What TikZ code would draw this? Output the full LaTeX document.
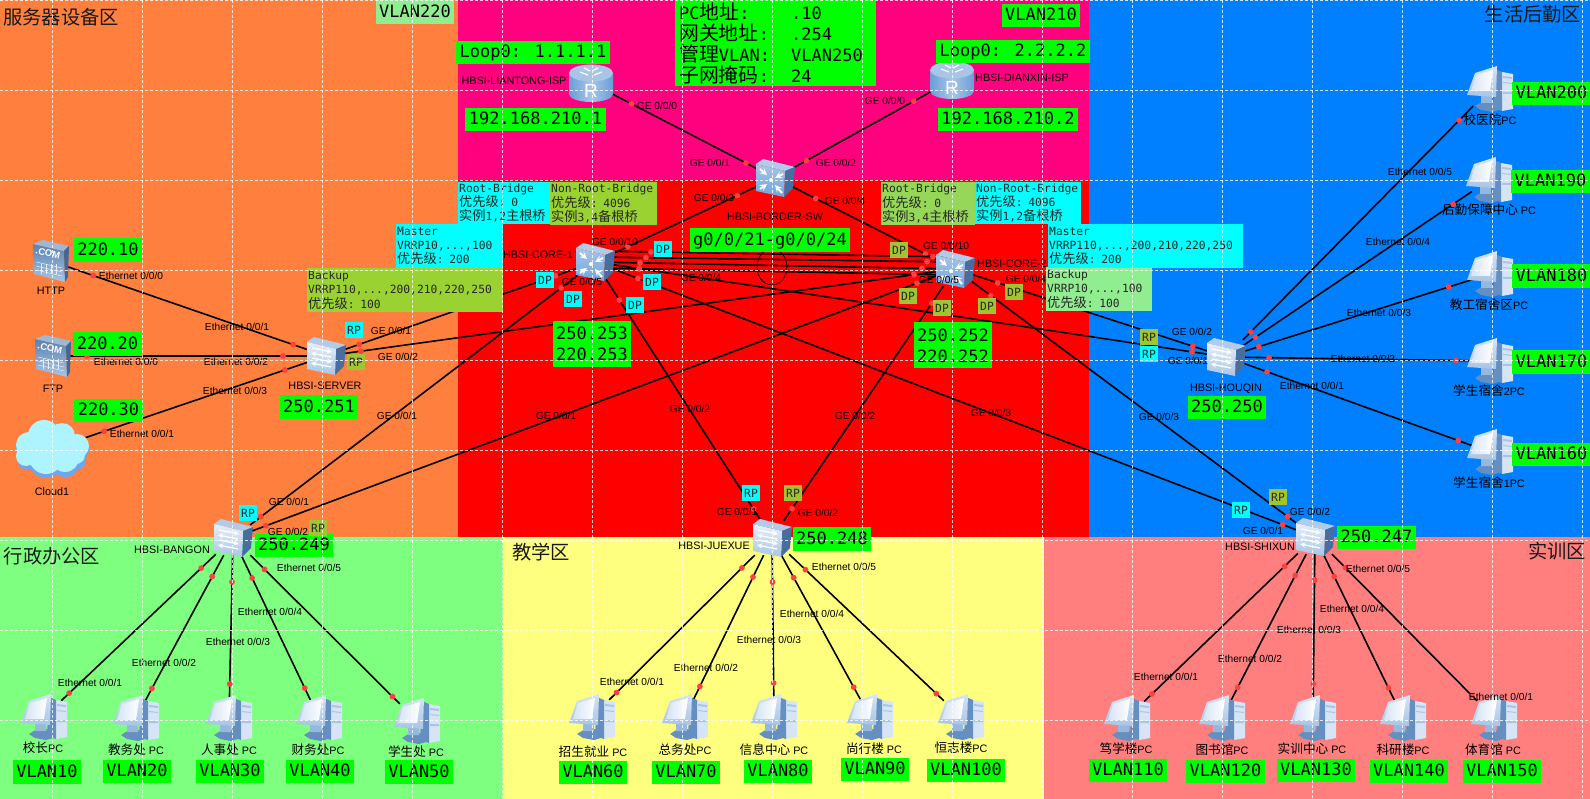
\documentclass[tikz,border=0pt]{standalone}
\usepackage{fontspec}
\setmainfont{Liberation Sans}
\newfontfamily\mono{DejaVu Sans Mono}
\newfontfamily\cjk[Scale=1.17]{Noto Sans CJK SC}
\usetikzlibrary{calc,shapes.geometric}
\definecolor{zorange}{RGB}{255,127,63}
\definecolor{zpink}{RGB}{255,0,127}
\definecolor{zred}{RGB}{255,0,0}
\definecolor{zblue}{RGB}{0,127,255}
\definecolor{zgreen}{RGB}{127,255,127}
\definecolor{zyellow}{RGB}{255,255,127}
\definecolor{zsalmon}{RGB}{255,127,127}
\definecolor{lime}{RGB}{0,255,0}
\definecolor{cyanb}{RGB}{0,255,255}
\definecolor{oliveb}{RGB}{160,196,50}
\definecolor{ygreen}{RGB}{154,210,50}
\definecolor{lgreen}{RGB}{144,238,144}
\definecolor{rgreen}{RGB}{150,215,90}
\definecolor{portred}{RGB}{255,64,64}
\definecolor{icdark}{RGB}{84,130,186}
\definecolor{icmid}{RGB}{168,197,230}
\definecolor{iclight}{RGB}{214,228,245}
\definecolor{icblue}{RGB}{110,165,225}
\definecolor{cloudlo}{RGB}{110,166,238}
\definecolor{cloudhi}{RGB}{174,244,255}
\newcommand\zh[1]{{\cjk #1}}
\newcount\nn
\newcommand\lnk[4]{\draw[link] (#1) -- (#2);\global\advance\nn by 1\relax
  \node[portdot] (pa\the\nn) at ($(#1.center)!(#3)!(#2.center)$) {};
  \node[portdot] (pb\the\nn) at ($(#1.center)!(#4)!(#2.center)$) {};}
\newcommand\tbox[7]{\node[tb,fill=#6,minimum width=#4,minimum height=#5,text width=#4pt-2pt] (#1) at (#2,#3) {#7};}
\tikzset{
  link/.style={black,line width=1.6pt},
  portdot/.style={circle,fill=portred,inner sep=0pt,minimum size=5.8pt},
  portlabel/.style={font=\fontsize{10.2}{12}\selectfont,inner sep=0pt,text=black},
  devlabel/.style={font=\fontsize{10.8}{13}\selectfont,inner sep=0pt,text=black},
  dev/.style={inner sep=0pt,minimum size=34pt},
  vbox/.style={fill=lime,font=\mono\fontsize{17}{21}\selectfont,inner xsep=3.5pt,inner ysep=0pt,minimum height=23.5pt,text height=12.5pt,text depth=2pt,text=black},
  vbox2/.style={fill=lime,font=\mono\fontsize{17}{21}\selectfont,inner xsep=3.5pt,inner ysep=0pt,minimum height=46pt,align=center,text=black},
  tb/.style={anchor=north west,font=\mono\fontsize{11.3}{14.3}\selectfont,inner xsep=1pt,inner ysep=0pt,align=left,text=black!85},
  tag/.style={font=\mono\fontsize{11.3}{13}\selectfont,inner sep=0pt,minimum width=18pt,minimum height=16pt,text=black!85},
  zone/.style={font=\fontsize{16.5}{20}\selectfont,inner sep=0pt,text=black!90},
  cubeshape/.pic={
    \fill[icmid!90!white] (-19,-14)--(-12,-19)--(20,-11)--(10,-7)--cycle;
    \fill[icdark!85!black] (10,-7)--(20,-11)--(18,10)--(9,19)--cycle;
  },
  swicon/.pic={
    \pic {cubeshape};
    \shade[top color=iclight!60!white,bottom color=icmid] (-19,-14)--(10,-7)--(9,19)--(-19,13)--cycle;
    \begin{scope}[white,line width=1.3pt,-stealth]
      \draw (-14,-8)--(6,-4); \draw (5,1)--(-15,-3); \draw (-14,2)--(6,6); \draw (5,11)--(-15,7);
    \end{scope}
  },
  coreicon/.pic={
    \pic {cubeshape};
    \shade[top color=icmid,bottom color=icblue] (-19,-14)--(10,-7)--(9,19)--(-19,13)--cycle;
    \begin{scope}[white,line width=2pt,-stealth]
      \draw (-15,-9)--(-8,-3); \draw (8,-4)--(0,0); \draw (-15,11)--(-8,6); \draw (7,15)--(0,7);
    \end{scope}
    \fill[white] (-4,2) circle (2);
  },
  routericon/.pic={
    \shade[left color=icblue!80!icdark,right color=icblue!80!icdark,middle color=icmid] (-22,-10)--(-22,11) arc[start angle=180,end angle=0,x radius=22,y radius=8]--(22,-10)--cycle;
    \fill[icmid] (0,-10) ellipse [x radius=22,y radius=8.5];
    \begin{scope}[white,line width=1.2pt]
      \draw (-11,-11)--(-3,-8); \draw (11,-11)--(3,-8); \draw (-7,-15)--(-1,-12); \draw (7,-15)--(1,-12);
    \end{scope}
    \node[white,font=\fontsize{19}{19}\selectfont,inner sep=0pt] (rletter) at (0,8) {R};
  },
  servericon/.pic={
    \shade[top color=icdark!85!gray,bottom color=icmid] (-18,-17)--(13,-10)--(14,21)--(-17,13)--cycle;
    \fill[icmid!80!gray] (-18,-17)--(-8,-21)--(18,-15)--(13,-10)--cycle;
    \fill[icdark!80!black] (13,-10)--(18,-15)--(17,16)--(14,21)--cycle;
    \begin{scope}[white!70!icmid,line width=.5pt]
      \draw (-15,1)--(11,7); \draw (-15,5)--(11,11); \draw (-15,9)--(11,15);
      \foreach \k in {-10,-5,0,5}{\draw (\k,3)--(\k,13);}
    \end{scope}
    \node[white,font=\bfseries\fontsize{9.5}{10}\selectfont,inner sep=0pt,rotate=-12] (comt) at (-3,-8) {.COM};
  },
  cloudicon/.pic={
    \fill[cloudlo] (-23,-1) circle (13) (-8,-9) circle (15) (10,-9) circle (13) (25,1) circle (12) (-24,10) circle (11) (-6,12) circle (17) (13,13) circle (15) (24,11) circle (10);
    \fill[cloudhi] (-23,-4) circle (13) (-8,-13) circle (16) (10,-13) circle (13) (25,-3) circle (12) (-26,7) circle (10) (-6,8) circle (17) (13,9) circle (14) (24,6) circle (9);
  },
  pcicon/.pic={
    \fill[iclight] (12,-17)--(23,-15)--(23,20)--(12,22)--cycle;
    \fill[icmid] (13,-13)--(22,-12)--(22,-10)--(13,-11)--cycle (13,-7)--(22,-6)--(22,-5)--(13,-6)--cycle (13,3)--(22,3)--(22,5)--(13,5)--cycle;
    \fill[icdark!90!white] (5,-20)--(12,-17)--(12,22)--(3,19)--cycle;
    \fill[icdark!90!white] (-15,17)--(-7,12)--(3,12)--(9,21)--(2,23)--(-9,21)--cycle;
    \fill[icmid!80!icdark] (-9,6)--(2,5)--(2,14)--(-9,14)--cycle;
    \shade[top color=iclight,bottom color=icmid] (-15,-16)--(7,-23)--(6,8)--(-23,6)--cycle;
    \shade[left color=iclight,right color=white] (-14,-14)--(3,-19)--(0,2)--(-19,2)--cycle;
  },
}
\begin{document}
\begin{tikzpicture}[x=1pt,y=-1pt]
\useasboundingbox (0,0) rectangle (1590,799);
% zones
\fill[zorange] (0,0) rectangle (458,537);
\fill[zpink] (458,0) rectangle (1089,180);
\fill[zred] (458,180) rectangle (1089,537);
\fill[zblue] (1089,0) rectangle (1590,537);
\fill[zgreen] (0,537) rectangle (503,799);
\fill[zyellow] (503,537) rectangle (1044,799);
\fill[zsalmon] (1044,537) rectangle (1590,799);
% zone titles
\node[zone] (zsrv) at (61,17) {\zh{服务器设备区}};
\node[zone] (zlife) at (1533,14) {\zh{生活后勤区}};
\node[zone] (zadm) at (52,556) {\zh{行政办公区}};
\node[zone] (zedu) at (541,552) {\zh{教学区}};
\node[zone] (ztrn) at (1557,551) {\zh{实训区}};
% device anchors
\foreach \n/\x/\y in {HTTP/51/261,FTP/53/356,CLOUD/52/449,SERVER/326/356,LT/591/83,DX/952/80,BORDER/775/178,C1/595/262,C2/955/269,HOUQIN/1226/357,BANGON/233/538,JUEXUE/772/538,SHIXUN/1315/537,
  pcA/44/717,pcB/136/718,pcC/229/718,pcD/319/718,pcE/417/721,
  pcF/592/717,pcG/685/717,pcH/774/717,pcI/870/717,pcJ/961/717,
  pcK/1127/718,pcL/1222/718,pcM/1313/718,pcN/1403/718,pcO/1494/718,
  pcP/1490/452,pcQ/1490/361,pcR/1490/274,pcS/1489/180,pcT/1490/89}
  {\node[dev] (\n) at (\x,\y) {};}
% device labels
\foreach \x/\y/\t [count=\i] in {514/81/HBSI-LIANTONG-ISP,1022/78/HBSI-DIANXIN-ISP,775/217/HBSI-BORDER-SW,538/255/HBSI-CORE-1,1012/264/HBSI-CORE-2,325/386/HBSI-SERVER,1226/389/HBSI-HOUQIN,172/550/HBSI-BANGON,714/546/HBSI-JUEXUE,1260/547/HBSI-SHIXUN,51/291/HTTP,53/389/FTP,52/492/Cloud1}
  {\node[devlabel] (dl\i) at (\x,\y) {\t};}
\foreach \x/\y/\t/\p [count=\i] in {43/748/校长/PC,136/750/教务处/ PC,229/750/人事处/ PC,318/750/财务处/PC,416/752/学生处/ PC,
  593/752/招生就业/ PC,685/750/总务处/PC,774/750/信息中心/ PC,874/749/尚行楼/ PC,961/748/恒志楼/PC,
  1126/749/笃学楼/PC,1222/750/图书馆/PC,1312/749/实训中心/ PC,1403/750/科研楼/PC,1493/750/体育馆/ PC,
  1490/120/校医院/PC,1489/210/后勤保障中心/ PC,1489/305/教工宿舍区/PC,1489/391/学生宿舍/2PC,1489/483/学生宿舍/1PC}
  {\node[devlabel] (pl\i) at (\x,\y) {\zh{\t}\p};}
% links
\coordinate (c1a) at ($(C1.center)+(0,-11)$);
\coordinate (c1b) at ($(C1.center)+(0,-5)$);
\coordinate (c1c) at ($(C1.center)+(0,0)$);
\coordinate (c1d) at ($(C1.center)+(0,6)$);
\coordinate (c2a) at ($(C2.center)+(0,-12)$);
\coordinate (c2b) at ($(C2.center)+(0,-7)$);
\coordinate (c2c) at ($(C2.center)+(0,0)$);
\coordinate (c2d) at ($(C2.center)+(0,6)$);
\lnk{HTTP}{SERVER}{93,276}{293,345}
\lnk{FTP}{SERVER}{87,357}{283,356}
\lnk{CLOUD}{SERVER}{104,431}{285,370}
\lnk{LT}{BORDER}{631,105}{746,163}
\lnk{DX}{BORDER}{914,102}{807,162}
\lnk{BORDER}{C1}{738,197}{628,247}
\lnk{BORDER}{C2}{816,198}{926,253}
\lnk{c1a}{c2a}{651,252}{933,257}
\lnk{c1b}{c2b}{646,258}{927,262}
\lnk{c1c}{c2c}{640,263}{922,268}
\lnk{c1d}{c2d}{639,268}{914,274}
\lnk{SERVER}{C1}{359,344}{556,277}
\lnk{SERVER}{C2}{361,351}{914,274}
\lnk{BANGON}{C1}{261,517}{562,289}
\lnk{BANGON}{C2}{266,526}{917,283}
\lnk{JUEXUE}{C1}{755,508}{621,299}
\lnk{JUEXUE}{C2}{794,510}{933,304}
\lnk{SHIXUN}{C1}{1283,524}{638,278}
\lnk{SHIXUN}{C2}{1288,516}{992,294}
\lnk{HOUQIN}{C1}{1192,352}{639,269}
\lnk{HOUQIN}{C2}{1193,346}{998,282}
\lnk{BANGON}{pcA}{202,569}{70,694}
\lnk{BANGON}{pcB}{213,577}{153,689}
\lnk{BANGON}{pcC}{233,582}{230,684}
\lnk{BANGON}{pcD}{252,578}{305,688}
\lnk{BANGON}{pcE}{264,570}{392,697}
\lnk{JUEXUE}{pcF}{743,569}{617,693}
\lnk{JUEXUE}{pcG}{755,578}{701,687}
\lnk{JUEXUE}{pcH}{774,582}{774,683}
\lnk{JUEXUE}{pcI}{795,577}{854,687}
\lnk{JUEXUE}{pcJ}{806,569}{936,694}
\lnk{SHIXUN}{pcK}{1285,567}{1152,694}
\lnk{SHIXUN}{pcL}{1296,576}{1239,688}
\lnk{SHIXUN}{pcM}{1316,580}{1314,684}
\lnk{SHIXUN}{pcN}{1335,576}{1388,688}
\lnk{SHIXUN}{pcO}{1345,568}{1470,697}
\lnk{HOUQIN}{pcT}{1251,332}{1460,121}
\lnk{HOUQIN}{pcS}{1255,337}{1453,204}
\lnk{HOUQIN}{pcR}{1259,347}{1449,288}
\lnk{HOUQIN}{pcQ}{1269,357}{1456,361}
\lnk{HOUQIN}{pcP}{1267,372}{1458,441}
\node[draw=black,ellipse,inner sep=0pt,minimum width=30pt,minimum height=36pt,line width=.7pt] (bundle) at (772,267) {};
% icons
\foreach \n in {pcA,pcB,pcC,pcD,pcE,pcF,pcG,pcH,pcI,pcJ,pcK,pcL,pcM,pcN,pcO,pcP,pcQ,pcR,pcS,pcT}{\pic at (\n) {pcicon};}
\foreach \n in {SERVER,HOUQIN,BANGON,JUEXUE,SHIXUN}{\pic at (\n) {swicon};}
\foreach \n in {BORDER,C1,C2}{\pic at (\n) {coreicon};}
\foreach \n in {LT,DX}{\pic at (\n) {routericon};}
\foreach \n in {HTTP,FTP}{\pic at (\n) {servericon};}
\pic at (CLOUD) {cloudicon};
% text boxes
\foreach \x/\y/\t [count=\i] in {47/772/VLAN10,137/771.5/VLAN20,230/771.5/VLAN30,320/771.5/VLAN40,419/772/VLAN50,593/772.5/VLAN60,686/772.5/VLAN70,778/771.5/VLAN80,875/769.5/VLAN90,966/770.5/VLAN100,1128/770.5/VLAN110,1225.5/771.5/VLAN120,1316/770.5/VLAN130,1409/771.5/VLAN140,1502/771.5/VLAN150,1551.5/454.5/VLAN160,1551.5/362/VLAN170,1551.5/276/VLAN180,1550.5/181.5/VLAN190,1551.5/93.5/VLAN200,1041/15.5/VLAN210,108/250/220.10,107.5/344/220.20,108.5/410.5/220.30,319/407/250.251,294/545.5/250.249,832/539/250.248,1376.5/537.5/250.247,1227/407.5/250.250,533/52.5/{Loop0: 1.1.1.1},1013/51.5/{Loop0: 2.2.2.2},535.5/119.5/192.168.210.1,1008/119.5/192.168.210.2}
  {\node[vbox] (vb\i) at (\x,\y) {\t};}
\node[vbox] (trunk) at (770,240) {g0/0/21-g0/0/24};
\node[vbox,fill=lgreen] (vb220) at (415,12) {VLAN220};
\node[vbox2] (addr1) at (592,344) {250.253\\220.253};
\node[vbox2] (addr2) at (953,345.5) {250.252\\220.252};
\node[anchor=north west,fill=lime,minimum width=201pt,minimum height=86pt,inner xsep=4pt,inner ysep=0pt,text width=193pt,font=\mono\fontsize{17}{21}\selectfont,align=left,text=black] (info) at (675,0)
  {\makebox[112pt][l]{PC\zh{地址}:}.10\\\makebox[112pt][l]{\zh{网关地址}:}.254\\\makebox[112pt][l]{\zh{管理}VLAN:}VLAN250\\\makebox[112pt][l]{\zh{子网掩码}:}24};
\tbox{rootA}{458}{182}{92}{42}{cyanb}{Root-Bridge\\\zh{优先级}: 0\\\zh{实例}1,2\zh{主根桥}}
\tbox{nonA}{550}{182}{107}{43}{ygreen}{Non-Root-Bridge\\\zh{优先级}: 4096\\\zh{实例}3,4\zh{备根桥}}
\tbox{rootB}{881}{182}{94}{43}{rgreen}{Root-Bridge\\\zh{优先级}: 0\\\zh{实例}3,4\zh{主根桥}}
\tbox{nonB}{975}{182}{106}{42}{cyanb}{Non-Root-Bridge\\\zh{优先级}: 4096\\\zh{实例}1,2\zh{备根桥}}
\tbox{backA}{307}{268}{196}{44}{ygreen}{Backup\\VRRP110,...,200,210,220,250\\\zh{优先级}: 100}
\tbox{masterA}{396}{224}{107}{43.5}{cyanb}{Master\\VRRP10,...,100\\\zh{优先级}: 200}
\tbox{backB}{1046}{267}{106}{44}{lgreen}{Backup\\VRRP10,...,100\\\zh{优先级}: 100}
\tbox{masterB}{1048}{224}{195}{43.5}{cyanb}{Master\\VRRP110,...,200,210,220,250\\\zh{优先级}: 200}
% DP / RP tags
\foreach \x/\y/\t [count=\i] in {663/249/DP,545/280/DP,573/299/DP,652/282/DP,635/305/DP,354/330/RP,248/513/RP,751/493/RP,1149/354/RP,1241/510/RP}
  {\node[tag,fill=cyanb] (tc\i) at (\x,\y) {\t};}
\foreach \x/\y/\t [count=\i] in {899/250/DP,908/296/DP,942/308/DP,987/306/DP,1014/292/DP,356/362/RP,318/528/RP,793/493/RP,1149/337/RP,1278/497/RP}
  {\node[tag,fill=oliveb] (to\i) at (\x,\y) {\t};}
% port labels
\foreach \x/\y/\n [count=\i] in {131/276/0,126/362/0,142/434/1,237/327/1,236/362/2,235/391/3,90/683/1,164/663/2,238/642/3,270/612/4,309/568/5,632/682/1,706/668/2,769/640/3,812/614/4,844/567/5,1166/677/1,1250/659/2,1309/630/3,1352/609/4,1378/569/5,1501/697/1,1420/172/5,1398/242/4,1379/313/3,1363/359/2,1312/386/1}
  {\node[portlabel] (eth\i) at (\x,\y) {Ethernet 0/0/\n};}
\foreach \x/\y/\n [count=\i] in {657/106/0,885/101/0,710/163/1,836/163/2,714/198/3,845/201/4,615/242/10,582/282/5,701/278/4,946/246/10,939/280/5,1026/279/4,391/331/1,398/357/2,289/502/1,288/532/2,737/512/1,818/513/2,1192/332/2,1188/361/1,1310/512/2,1263/531/1,397/416/1,556/416/1,690/409/2,855/416/2,991/413/3,1159/417/3}
  {\node[portlabel] (ge\i) at (\x,\y) {GE 0/0/\n};}
% grid
\begin{scope}[white,opacity=.8,line width=.8pt,dash pattern=on 3pt off 2pt]
  \foreach \k in {0,...,17}{\draw (52.5+90*\k,0) -- (52.5+90*\k,799);}
  \foreach \k in {0,...,8}{\draw (0,90*\k) -- (1590,90*\k);}
\end{scope}
\end{tikzpicture}
\end{document}
